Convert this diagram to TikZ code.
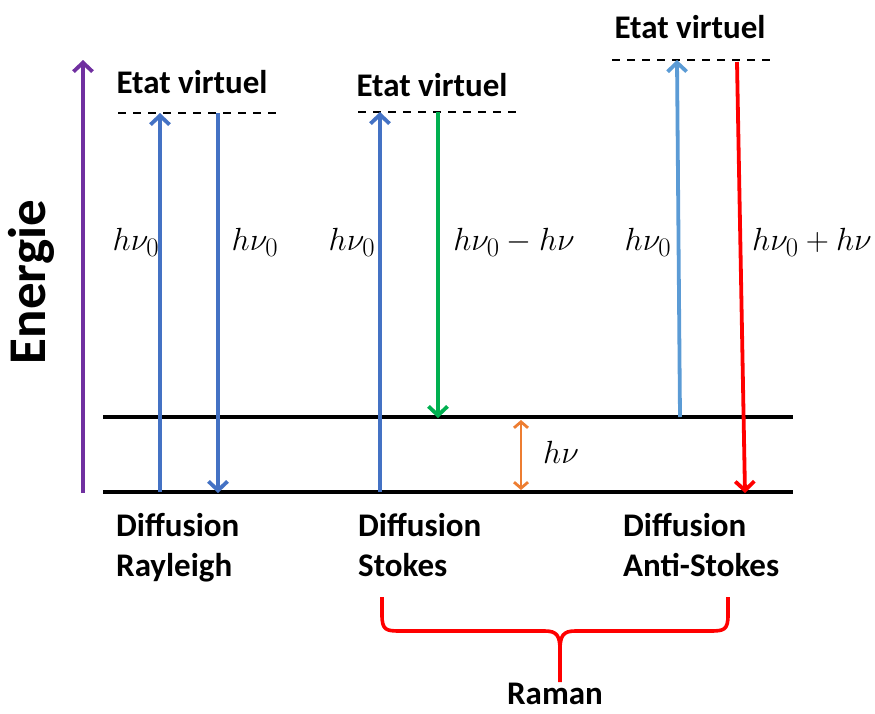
\documentclass[tikz,border=0pt]{standalone}
\usepackage{fontspec}
\usepackage{graphicx}
\setmainfont{Carlito}
\usetikzlibrary{arrows.meta}
\definecolor{cpurple}{HTML}{7030A0}
\definecolor{cblue}{HTML}{4472C4}
\definecolor{clblue}{HTML}{5B9BD5}
\definecolor{cgreen}{HTML}{00B050}
\definecolor{cred}{HTML}{FF0000}
\definecolor{corange}{HTML}{ED7D31}
\newcommand{\myhugemath}[1]{\scalebox{1.29}{\fontsize{24.88}{30}\selectfont$#1$}}
\tikzset{
  lbl/.style={font=\bfseries\fontsize{33}{40}\selectfont, inner sep=0pt},
  mlbl/.style={inner sep=0pt},
  level/.style={line width=3.8pt, black},
  virt/.style={line width=2.8pt, black, dash pattern=on 8pt off 7pt},
  photon/.style={line width=3.8pt, -{Straight Barb[length=9pt,width=19pt,line width=3.8pt]}},
}
\begin{document}
\begin{tikzpicture}[x=1pt,y=-1pt]
\useasboundingbox (0,0) rectangle (875,713);
% energy axis
\coordinate (ea0) at (83,493);
\coordinate (ea1) at (83,60);
\draw[photon, cpurple] (ea0) -- (ea1);
\node[lbl, font=\bfseries\fontsize{53}{58}\selectfont, rotate=90] (energie) at (31,282) {Energie};
% levels
\coordinate (g0l) at (103,492); \coordinate (g0r) at (793,492);
\coordinate (g1l) at (103,417); \coordinate (g1r) at (793,417);
\draw[level] (g0l) -- (g0r);
\draw[level] (g1l) -- (g1r);
% virtual levels
\coordinate (v1l) at (118,113); \coordinate (v1r) at (282,113);
\coordinate (v2l) at (358,112); \coordinate (v2r) at (522,112);
\coordinate (v3l) at (612,60); \coordinate (v3r) at (776,60);
\draw[virt] (v1l) -- (v1r);
\draw[virt] (v2l) -- (v2r);
\draw[virt] (v3l) -- (v3r);
\node[lbl] (et1) at (192,82) {Etat virtuel};
\node[lbl] (et2) at (432,85) {Etat virtuel};
\node[lbl] (et3) at (690,27) {Etat virtuel};
% Rayleigh
\coordinate (r1b) at (160,492); \coordinate (r1t) at (160,113);
\coordinate (r2t) at (218,113); \coordinate (r2b) at (218,493);
\draw[photon, cblue] (r1b) -- (r1t);
\draw[photon, cblue] (r2t) -- (r2b);
% Stokes
\coordinate (s1b) at (380,492); \coordinate (s1t) at (380,112);
\coordinate (s2t) at (438,112); \coordinate (s2b) at (438,418);
\draw[photon, cblue] (s1b) -- (s1t);
\draw[photon, cgreen] (s2t) -- (s2b);
% Anti-Stokes
\coordinate (a1b) at (680,417); \coordinate (a1t) at (677,60);
\coordinate (a2t) at (737,62); \coordinate (a2b) at (745,493);
\draw[photon, clblue] (a1b) -- (a1t);
\draw[photon, cred] (a2t) -- (a2b);
% h nu gap
\coordinate (o1) at (521,420); \coordinate (o2) at (521,490);
\draw[line width=2.8pt, corange, {Straight Barb[length=6pt,width=14pt,line width=2.8pt]}-{Straight Barb[length=6pt,width=14pt,line width=2.8pt]}] (o1) -- (o2);
\node[mlbl] (hnu) at (561,452) {\myhugemath{h\nu}};
% photon labels
\node[mlbl] (l1) at (136,242) {\myhugemath{h\nu_0}};
\node[mlbl] (l2) at (255,242) {\myhugemath{h\nu_0}};
\node[mlbl] (l3) at (352,242) {\myhugemath{h\nu_0}};
\node[mlbl] (l4) at (514,242) {\myhugemath{h\nu_0-h\nu}};
\node[mlbl] (l5) at (648,242) {\myhugemath{h\nu_0}};
\node[mlbl] (l6) at (812,242) {\myhugemath{h\nu_0+h\nu}};
% bottom labels
\node[lbl, anchor=north west, align=left] (d1) at (116,513) {Diffusion\\Rayleigh};
\node[lbl, anchor=north west, align=left] (d2) at (358,513) {Diffusion\\Stokes};
\node[lbl, anchor=north west, align=left] (d3) at (623,513) {Diffusion\\Anti-Stokes};
% brace
\coordinate (bl) at (382,597); \coordinate (br) at (728,597); \coordinate (bm) at (560,682);
\draw[line width=3.6pt, cred, line join=round]
  (bl) -- (382,615) .. controls (382,630) and (386,631) .. (400,631)
  -- (545,631) .. controls (557,631) and (560,636) .. (560,650) -- (bm);
\draw[line width=3.6pt, cred, line join=round]
  (br) -- (728,615) .. controls (728,630) and (724,631) .. (710,631)
  -- (575,631) .. controls (563,631) and (560,636) .. (560,650);
\node[lbl, anchor=base] (raman) at (555,704) {Raman};
\end{tikzpicture}
\end{document}
